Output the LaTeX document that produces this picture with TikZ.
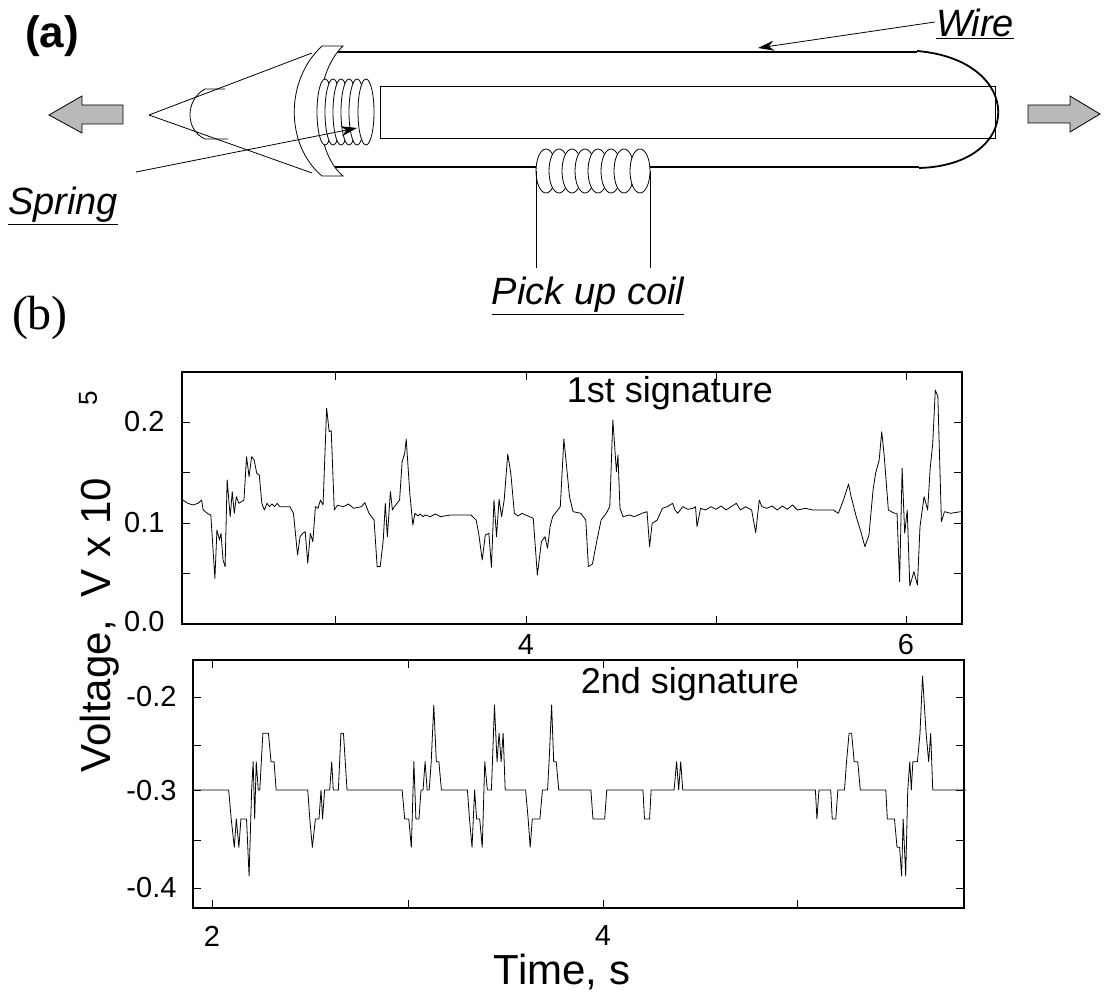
\documentclass[tikz,border=0pt]{standalone}
\usepackage{fontspec}
\setmainfont{Liberation Sans}
\newfontfamily\serifb{Liberation Serif}
\usetikzlibrary{arrows.meta}
\begin{document}
\begin{tikzpicture}[x=1pt,y=-1pt,
  lbl/.style={font=\fontsize{38}{40}\selectfont\itshape},
  tick/.style={font=\fontsize{29}{31}\selectfont},
  sig/.style={line width=0.8pt,line join=round},
  gray arrow/.style={draw,fill=gray!55,line width=0.8pt},
  thin line/.style={line width=0.8pt}]
\useasboundingbox (0,0) rectangle (1105,1000);
% ---------- (a)
\node[font=\fontsize{44}{46}\selectfont\bfseries] (a) at (52,36) {(a)};
% gray arrows
\draw[gray arrow] (49,115) -- (82,96) -- (82,105) -- (123,105) -- (123,124) -- (82,124) -- (82,133) -- cycle;
\draw[gray arrow] (1100,114) -- (1070,96) -- (1070,105) -- (1028,105) -- (1028,123) -- (1070,123) -- (1070,132) -- cycle;
% tube
\draw[line width=1.6pt] (333,52) -- (917,52);
\draw[line width=1.6pt] (333,167) -- (919,167);
\draw[line width=1.8pt] (917,51) .. controls (1025,60) and (1025,165) .. (919,168);
\draw[thin line] (380,86) rectangle (995,138);
% cone
\coordinate (apex) at (149,115);
\draw[thin line] (apex) -- (312,53);
\draw[thin line] (apex) -- (312,173);
\draw[thin line] (225,89) -- (205,89) .. controls (185,100) and (185,130) .. (205,139) -- (228,139);
% end cap crescent
\draw[thin line,fill=white] (343,46) -- (322,46) .. controls (285,80) and (285,145) .. (322,176) -- (343,176)
  .. controls (312,150) and (312,75) .. (343,46) -- cycle;
% spring
\foreach \cx in {325,333,341,349,357,366}
  \draw[thin line,fill=white] (\cx,112) ellipse [x radius=8pt, y radius=33pt];
\draw[thin line] (380,86) -- (380,138);
% pick up coil
\foreach \cx in {546,559,572,585,598,611,624,640}
  \draw[thin line,fill=white] (\cx,171) ellipse [x radius=10pt, y radius=22pt];
\draw[thin line] (536,171) -- (536,268);
\draw[thin line] (650,171) -- (650,268);
% labels
\node[lbl] (spring) at (63,206) {\underline{Spring}};
\node[lbl] (coil) at (588,296) {\underline{Pick up coil}};
\node[lbl] (wire) at (975,24) {\underline{Wire}};
\coordinate (springtip) at (357,128);
\coordinate (wiretip) at (758,48);
\draw[thin line,-{Stealth[length=16pt,width=10pt]}] (136,172) -- (springtip);
\draw[thin line,-{Stealth[length=16pt,width=10pt]}] (935,22) -- (wiretip);
% ---------- (b)
\node[font=\fontsize{48}{50}\selectfont\serifb] (b) at (40,318) {(b)};
% plot 1 frame
\draw[line width=1.2pt] (182,372) rectangle (962,624);
\foreach \x in {335,526,716,906} {\draw[line width=1pt] (\x,372) -- (\x,380); \draw[line width=1pt] (\x,624) -- (\x,616);}
\foreach \y in {422,472,523,573} {\draw[line width=1pt] (182,\y) -- (190,\y); \draw[line width=1pt] (962,\y) -- (954,\y);}
\node[tick,anchor=east] (p1a) at (168,422) {0.2};
\node[tick,anchor=east] (p1b) at (168,523) {0.1};
\node[tick,anchor=east] (p1c) at (168,622) {0.0};
\node[tick] (p1x4) at (526,645) {4};
\node[tick] (p1x6) at (906,645) {6};
\node[font=\fontsize{36}{38}\selectfont] (s1) at (670,393) {1st signature};
\begin{scope}[shift={(170,360)},xscale=0.5102,yscale=0.3333]
\draw[sig] plot coordinates {(25,420)(35,430)(45,435)(55,430)(62,420)(65,450)(75,462)(80,465)(88,655)(92,510)(97,540)(100,520)(104,600)(108,620)(112,360)(118,470)(122,395)(126,460)(130,410)(135,430)(140,425)(145,420)(150,290)(155,350)(160,290)(165,300)(170,340)(175,345)(180,430)(185,450)(190,430)(195,440)(200,432)(205,440)(210,430)(215,440)(235,440)(242,460)(250,585)(255,530)(260,520)(265,515)(270,610)(275,520)(280,545)(285,440)(290,445)(295,420)(300,435)(307,145)(312,215)(316,212)(322,450)(328,436)(340,440)(350,432)(360,445)(375,440)(382,428)(390,460)(400,480)(406,620)(412,620)(418,540)(422,430)(426,530)(432,395)(436,450)(440,440)(450,420)(455,305)(460,280)(463,237)(470,400)(476,495)(480,460)(486,468)(490,462)(496,470)(500,465)(510,470)(520,462)(530,470)(550,465)(590,465)(600,480)(605,520)(612,600)(618,525)(625,520)(630,622)(635,420)(640,530)(645,418)(650,470)(655,420)(662,282)(668,340)(675,460)(682,468)(690,460)(712,475)(720,645)(728,545)(735,530)(740,565)(745,500)(750,470)(755,460)(765,440)(772,237)(778,330)(783,410)(790,455)(805,460)(815,480)(820,620)(828,612)(835,555)(845,480)(855,460)(862,440)(868,180)(875,335)(878,285)(882,445)(888,470)(900,465)(910,470)(925,460)(935,455)(940,560)(945,490)(955,480)(965,445)(975,440)(985,430)(990,450)(995,460)(1005,440)(1015,448)(1025,445)(1030,440)(1033,500)(1040,445)(1050,450)(1060,440)(1070,448)(1080,438)(1090,450)(1100,440)(1110,430)(1118,450)(1128,440)(1140,450)(1148,518)(1155,420)(1160,440)(1170,445)(1180,438)(1190,450)(1200,438)(1210,448)(1220,435)(1230,450)(1245,445)(1260,450)(1300,450)(1310,460)(1320,420)(1330,372)(1335,410)(1345,470)(1355,520)(1362,560)(1370,525)(1378,390)(1383,340)(1390,300)(1395,215)(1400,290)(1408,450)(1420,460)(1425,460)(1430,665)(1435,325)(1440,520)(1445,450)(1450,678)(1458,635)(1465,675)(1470,500)(1478,410)(1485,450)(1490,325)(1495,250)(1500,90)(1505,110)(1512,485)(1518,455)(1530,460)(1550,455)};
\end{scope}
% plot 2 frame
\draw[line width=1.2pt] (193,660) rectangle (964,908);
\foreach \x in {212,408,603,797} {\draw[line width=1pt] (\x,660) -- (\x,668); \draw[line width=1pt] (\x,908) -- (\x,900);}
\foreach \y in {697,745,790,840,888} {\draw[line width=1pt] (193,\y) -- (201,\y); \draw[line width=1pt] (964,\y) -- (956,\y);}
\node[tick,anchor=east] (p2a) at (180,697) {-0.2};
\node[tick,anchor=east] (p2b) at (180,791) {-0.3};
\node[tick,anchor=east] (p2c) at (180,888) {-0.4};
\node[tick] (p2x2) at (212,936) {2};
\node[tick] (p2x4) at (603,936) {4};
\node[font=\fontsize{36}{38}\selectfont] (s2) at (690,684) {2nd signature};
\begin{scope}[shift={(170,650)},xscale=0.5102,yscale=0.3333]
\draw[sig] plot coordinates {(45,420)(115,420)(120,507)(126,592)(130,507)(135,592)(139,507)(150,507)(155,678)(160,420)(163,335)(166,507)(169,335)(173,420)(176,420)(182,250)(193,250)(198,335)(204,335)(208,420)(270,420)(274,507)(279,592)(285,507)(292,507)(296,420)(299,507)(303,420)(313,420)(317,335)(320,420)(330,420)(335,250)(340,250)(347,420)(455,420)(460,507)(468,507)(473,592)(478,335)(482,507)(488,507)(492,420)(496,420)(500,335)(504,420)(508,420)(512,335)(517,165)(522,335)(527,335)(532,420)(583,420)(587,507)(592,592)(597,420)(601,507)(607,507)(612,592)(617,335)(622,420)(630,420)(636,165)(641,335)(645,250)(649,335)(653,250)(657,420)(697,420)(702,507)(706,592)(710,507)(725,507)(730,420)(740,420)(743,335)(748,165)(752,335)(757,335)(762,420)(825,420)(829,507)(852,507)(856,420)(927,420)(930,507)(940,507)(943,420)(988,420)(993,335)(997,420)(1001,335)(1005,420)(1265,420)(1268,507)(1272,420)(1295,420)(1298,507)(1305,507)(1309,420)(1322,420)(1326,335)(1331,250)(1336,250)(1341,335)(1348,335)(1353,420)(1403,420)(1406,507)(1420,507)(1425,592)(1430,592)(1434,678)(1437,507)(1442,678)(1446,420)(1450,335)(1453,420)(1456,335)(1460,335)(1465,335)(1470,250)(1475,78)(1482,250)(1487,335)(1491,250)(1495,420)(1560,420)};
\end{scope}
% axis labels
\node[font=\fontsize{42}{44}\selectfont,rotate=90] (ylab) at (100,625) {Voltage,\ \ V x 10};
\node[font=\fontsize{26}{28}\selectfont,rotate=90] (yexp) at (88,398) {5};
\node[font=\fontsize{42}{44}\selectfont] (xlab) at (562,972) {Time, s};
\end{tikzpicture}
\end{document}
